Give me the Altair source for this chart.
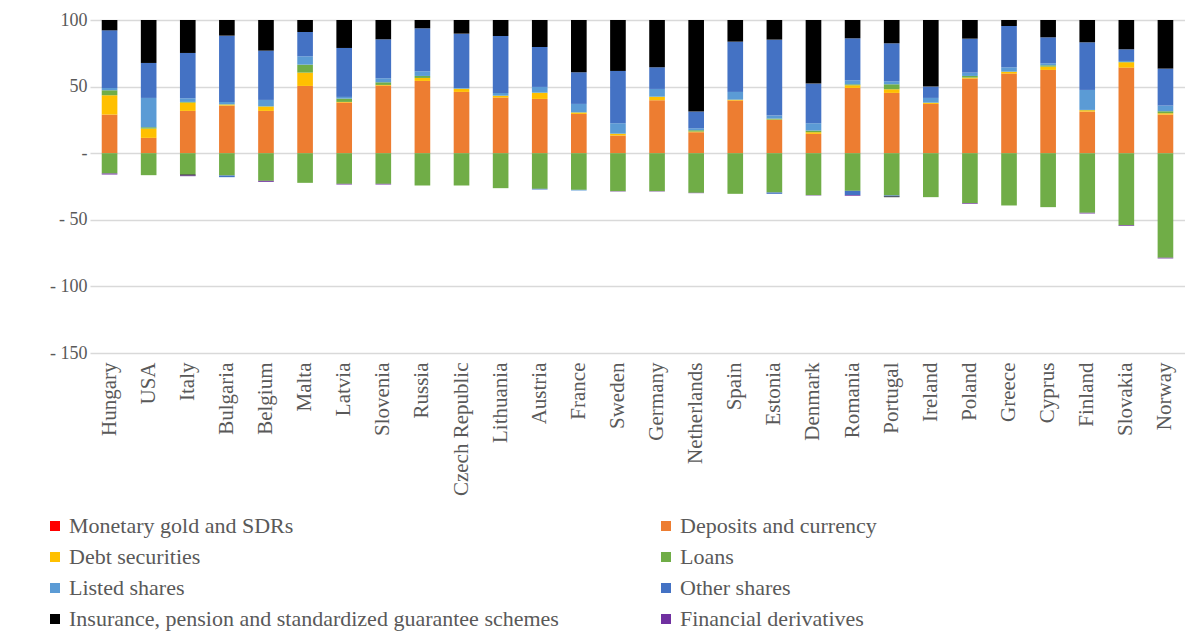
import altair as alt
import pandas as pd

countries = ["Hungary", "USA", "Italy", "Bulgaria", "Belgium", "Malta", "Latvia", "Slovenia",
             "Russia", "Czech Republic", "Lithuania", "Austria", "France", "Sweden", "Germany",
             "Netherlands", "Spain", "Estonia", "Denmark", "Romania", "Portugal", "Ireland",
             "Poland", "Greece", "Cyprus", "Finland", "Slovakia", "Norway"]

categories = ["Monetary gold and SDRs", "Deposits and currency", "Debt securities", "Loans",
              "Listed shares", "Other shares",
              "Insurance, pension and standardized guarantee schemes", "Financial derivatives"]
colors = ["#FF0000", "#ED7D31", "#FFC000", "#70AD47", "#5B9BD5", "#4472C4", "#000000", "#7030A0"]

# Assets (positive side)
deposits_a = [29, 11.5, 31.75, 35.75, 31.75, 50.5, 38, 50.75, 54.25, 46, 41.75, 40.75, 29.5, 13.25,
              39.75, 15.75, 39.5, 25, 14.5, 49, 45.25, 37, 56, 59.75, 62.5, 31.25, 64.25, 29]
debt_a = [14.5, 7, 6.25, 0.75, 3.25, 10, 0.5, 0.5, 2.25, 2.25, 1.25, 4.5, 1, 1.25, 2.5, 0.5, 0.5,
          0.25, 1.25, 2, 2.75, 0.75, 0.75, 1.25, 2.5, 1, 4, 1]
loans_a = [3.75, 1, 0.5, 0.25, 0.25, 6, 2.5, 2, 1.5, 0.25, 0.25, 0.25, 0.25, 0.25, 0.25, 1, 0.25,
           0.75, 1.25, 0.75, 3.75, 0.25, 1.25, 0.25, 1, 0.25, 0.25, 1.5]
listed_a = [1.75, 22, 2.75, 1.75, 4.75, 6.25, 1.25, 3, 3.5, 0.5, 2, 4.25, 6.25, 7.75, 5.75, 1.5,
            5.75, 2.25, 5.5, 3, 2.25, 3.5, 2.5, 3.25, 1.5, 15, 0.75, 4.25]
other_a = [43.25, 26.25, 34, 49.75, 37, 18.25, 36.75, 29.25, 32.25, 40.75, 42.75, 30, 23.75, 39.25,
           16.25, 12.5, 37.75, 57, 29.75, 31.5, 28.5, 8.5, 25.5, 31, 19.5, 35.75, 8.75, 27.75]
insurance_a = [7.75, 32.25, 24.75, 11.75, 23, 9, 21, 14.5, 6.25, 10.25, 12, 20.25, 39.25, 38.25,
               35.5, 68.75, 16.25, 14.75, 47.75, 13.75, 17.5, 50, 14, 4.5, 13, 16.75, 22, 36.5]

# Liabilities (negative side)
loans_l = [-15.25, -16.5, -16, -16.75, -20.75, -22.25, -23, -23, -24.25, -24.25, -26.25, -26.75,
           -27.5, -28.5, -28.5, -29.75, -30.5, -29.5, -31.5, -28.25, -31.75, -33, -37.5, -39.25,
           -40.5, -44.75, -54, -78.5]
listed_l = [0, 0, 0, 0, 0, 0, 0, 0, 0, 0, 0, 0, -0.5, 0, 0, 0, 0, 0, 0, 0, 0, 0, 0, 0, 0, 0, 0, 0]
other_l = [0, 0, 0, -1.25, 0, 0, 0, 0, 0, 0, 0, -0.5, 0, 0, 0, 0, 0, -1, 0, -3.25, -0.75, 0, 0, 0,
           0, 0, 0, 0]
insurance_l = [0, 0, -0.75, 0, 0, 0, 0, 0, 0, 0, 0, 0, 0, 0, 0, 0, 0, 0, 0, 0, -0.5, 0, 0, 0, 0,
               0, 0, 0]
deriv_l = [-0.75, 0, -0.5, 0, -0.75, 0, -0.5, -0.5, 0, 0, 0, 0, 0, -0.25, -0.25, -0.25, 0, 0,
           -0.25, -0.5, 0, 0, -0.5, 0, 0, -0.5, -0.5, -0.5]

series = [
    (1, deposits_a), (2, debt_a), (3, loans_a), (4, listed_a), (5, other_a), (6, insurance_a),
    (3, loans_l), (4, listed_l), (5, other_l), (6, insurance_l), (7, deriv_l),
]

rows = []
for idx, vals in series:
    for c, v in zip(countries, vals):
        if v != 0:
            rows.append({"country": c, "category": categories[idx], "ord": idx, "value": v})
df = pd.DataFrame(rows)

# legend fills column by column (4 rows x 2 columns); order so it reads row by row
legend_order = [0, 2, 4, 6, 1, 3, 5, 7]
legend_domain = [categories[i] for i in legend_order]
legend_range = [colors[i] for i in legend_order]

FONT = "Liberation Serif"
TEXT = "#595959"

zero_label = "-\u00a0"
label_expr = ("datum.value == 0 ? '" + zero_label + "' : (datum.value < 0 ? '- ' + abs(datum.value)"
              " : datum.label)")

chart = alt.Chart(df).mark_bar().encode(
    x=alt.X("country:N", sort=countries, title=None,
            scale=alt.Scale(paddingInner=0.6, paddingOuter=0.3),
            axis=alt.Axis(labelAngle=-90, labelFont=FONT, labelFontSize=21, labelColor=TEXT,
                          domain=False, ticks=False, labelPadding=9)),
    y=alt.Y("value:Q", stack="zero", title=None,
            scale=alt.Scale(domain=[-150, 100], nice=False),
            axis=alt.Axis(values=[-150, -100, -50, 0, 50, 100], labelExpr=label_expr,
                          labelFont=FONT, labelFontSize=18, labelColor=TEXT, domain=False,
                          ticks=False, labelPadding=3, gridColor="#D9D9D9", gridWidth=1.5)),
    color=alt.Color("category:N",
                    scale=alt.Scale(domain=legend_domain, range=legend_range),
                    legend=alt.Legend(orient="none", legendX=-46, legendY=495, columns=2,
                                      columnPadding=96, rowPadding=9, title=None,
                                      symbolType="square", symbolSize=100, symbolStrokeWidth=0,
                                      labelFont=FONT, labelFontSize=22, labelColor=TEXT,
                                      labelOffset=3, padding=0, labelLimit=0)),
    order=alt.Order("ord:Q", sort="ascending"),
).properties(
    width=1095, height=333,
    autosize=alt.AutoSizeParams(type="none"),
    padding={"left": 82, "top": 12, "right": 0, "bottom": 278},
).configure_view(stroke=None)

chart.save("out.html", embed_options={"renderer": "svg", "actions": False})
